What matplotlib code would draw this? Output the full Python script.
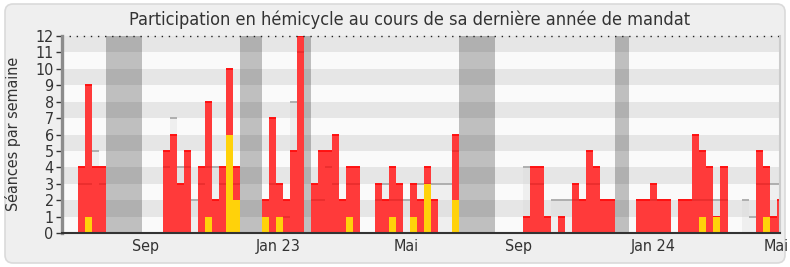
import matplotlib
matplotlib.use("Agg")
import matplotlib.pyplot as plt
import numpy as np
from matplotlib.patches import FancyBboxPatch
from matplotlib.transforms import IdentityTransform

# Weekly hemicycle attendance over the last year of the mandate
presences = [4, 9, 4, 4, 0, 0, 0, 0, 0, 0, 0, 0, 5, 6, 3, 5, 0, 4, 8, 2,
             4, 10, 4, 0, 0, 0, 2, 7, 3, 2, 5, 12, 0, 3, 5, 5, 6, 2, 4, 4,
             0, 0, 3, 2, 4, 3, 0, 3, 2, 4, 2, 0, 0, 6, 0, 0, 0, 0, 0, 0,
             0, 0, 0, 1, 4, 4, 1, 0, 1, 0, 3, 2, 5, 4, 2, 2, 0, 0, 0, 2,
             2, 3, 2, 2, 0, 2, 2, 6, 5, 4, 1, 4, 0, 0, 0, 0, 5, 4, 1, 2]
interventions = [0, 1, 0, 0, 0, 0, 0, 0, 0, 0, 0, 0, 0, 0, 0, 0, 0, 0, 1, 0,
                 0, 6, 2, 0, 0, 0, 1, 0, 1, 0, 0, 0, 0, 0, 0, 0, 0, 0, 1, 0,
                 0, 0, 0, 0, 1, 0, 0, 1, 0, 3, 0, 0, 0, 2, 0, 0, 0, 0, 0, 0,
                 0, 0, 0, 0, 0, 0, 0, 0, 0, 0, 0, 0, 0, 0, 0, 0, 0, 0, 0, 0,
                 0, 0, 0, 0, 0, 0, 0, 0, 1, 0, 1, 0, 0, 0, 0, 0, 0, 1, 0, 0]
mediane = [3, 3, 5, 3, 0, 0, 0, 0, 0, 0, 0, 0, 4, 7, 4, 4, 2, 3, 4, 4,
           3, 4, 3, 0, 0, 0, 2, 3, 3, 1, 8, 11, 0, 2, 2, 4, 3, 2, 3, 3,
           0, 0, 2, 3, 2, 2, 2, 3, 3, 3, 3, 3, 3, 5, 0, 0, 0, 0, 0, 0,
           0, 0, 0, 4, 3, 3, 1, 2, 2, 2, 2, 2, 3, 3, 2, 2, 0, 0, 0, 2,
           2, 2, 2, 2, 0, 2, 2, 2, 2, 2, 2, 2, 0, 0, 2, 1, 3, 3, 3, 3]
vacances_debut = [4, 23, 32, 54, 76]
vacances_duree = [5, 3, 1, 5, 2]
mois_labels = ["Sep", "Jan 23", "Mai", "Sep", "Jan 24", "Mai"]
mois_semaines = [9.5, 28.4, 46.5, 62.4, 81.4, 98.9]

FONT = dict(family="DejaVu Sans", stretch="condensed")
TXT = "#333333"

fig = plt.figure(figsize=(7.9, 2.67), dpi=100)
fig.patch.set_facecolor("white")
frame = FancyBboxPatch((5, 4), 780, 259, boxstyle="round,pad=0,rounding_size=8",
                       transform=IdentityTransform(), fc="#efefef", ec="#dadada",
                       lw=1.2, zorder=-5)
fig.patches.append(frame)

ax = fig.add_axes([62 / 790, 1 - 233 / 267, (780 - 62) / 790, (233 - 36) / 267])
ax.set_zorder(2)
ax.set_facecolor("#fafafa")
ax.set_xlim(-2.27, 99.43)
ax.set_ylim(0, 12)

weeks = np.arange(len(presences))
pres = np.array(presences, dtype=float)
inter = np.array(interventions, dtype=float)
med = np.array(mediane, dtype=float)

# holidays
for d, n in zip(vacances_debut, vacances_duree):
    ax.axvspan(d, d + n, color="#bfbfbf", lw=0, zorder=0.5)

# horizontal banding, translucent so it darkens the holidays too
for k in range(1, 12, 2):
    ax.axhspan(k, k + 1, color="black", alpha=0.08, lw=0, zorder=1)

# median of all members, light step bars
m = med > 0
ax.bar(weeks[m], med[m], width=1, align="edge", color="#d8d8d8", alpha=0.3,
       lw=0, zorder=2)
ax.hlines(med[m], weeks[m], weeks[m] + 1, color="#aaaaaa", lw=1.3, zorder=2.1)

# attendance
p = pres > 0
ax.bar(weeks[p], pres[p], width=1, align="edge", color="#ff3a3a", lw=0, zorder=3)
ax.hlines(pres[p], weeks[p], weeks[p] + 1, color="#ff1010", lw=1.4, zorder=3.2)
inside = m & (med < pres)
ax.hlines(med[inside], weeks[inside], weeks[inside] + 1, color="#a00000",
          alpha=0.22, lw=1.3, zorder=3.3)

# speeches
i = inter > 0
ax.bar(weeks[i], inter[i], width=1, align="edge", color="#ffd20a", lw=0, zorder=4)

# dotted top boundary
ax.axhline(12, color="#222222", lw=1.0, ls=(0, (1, 4.1)), zorder=5, clip_on=False)

ax.spines["top"].set_visible(False)
ax.spines["right"].set_color("#cccccc")
ax.spines["right"].set_linewidth(1.5)
ax.spines["left"].set_color("#8c8c8c")
ax.spines["left"].set_linewidth(2.4)
ax.spines["bottom"].set_color("#333333")
ax.spines["bottom"].set_linewidth(1.5)
for s in ax.spines.values():
    s.set_zorder(6)

ax.set_yticks(range(0, 13))
ax.set_yticklabels([str(v) for v in range(0, 13)], color=TXT, fontsize=11.5, **FONT)
ax.tick_params(axis="y", length=4, width=1, color="#333333", pad=2)
ax.set_xticks(mois_semaines)
ax.set_xticklabels(mois_labels, color=TXT, fontsize=11.5, **FONT)
ax.tick_params(axis="x", length=0, pad=4)

fig.text(12.7 / 790, 1 - 134 / 267, "Séances par semaine", rotation=90,
         ha="center", va="center", color=TXT, fontsize=11.5, **FONT)
fig.text(410 / 790, 1 - 19.5 / 267,
         "Participation en hémicycle au cours de sa dernière année de mandat",
         ha="center", va="center", color=TXT, fontsize=13, **FONT)

fig.savefig("out.png", dpi=100, facecolor=fig.get_facecolor())
